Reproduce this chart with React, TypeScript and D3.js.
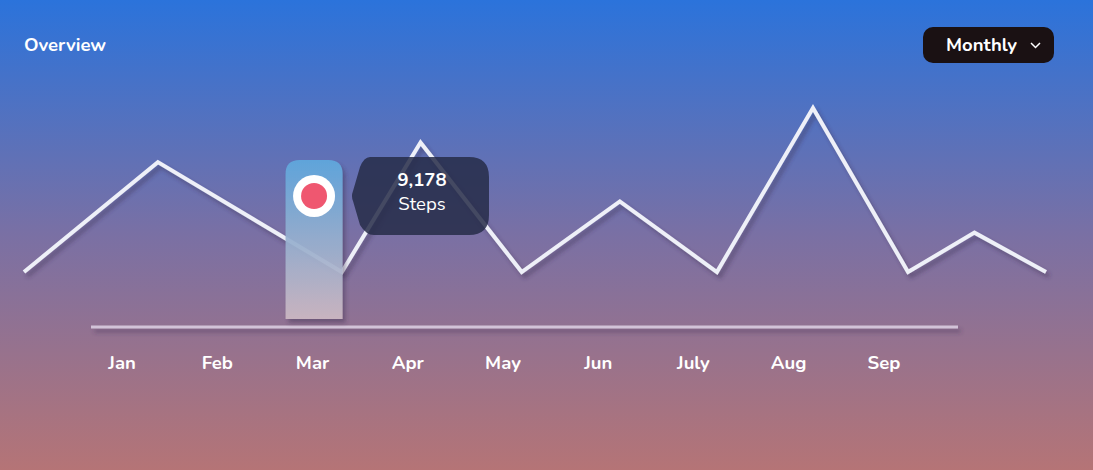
import React, {useRef, useEffect} from "react";
import * as d3 from "d3";

// months on the axis
const months = ["Jan", "Feb", "Mar", "Apr", "May", "Jun", "July", "Aug", "Sep"];
// line positions (0-100 across the width) and values (0-100)
const linePos = [0, 13.1, 31.1, 38.8, 48.7, 58.3, 67.8, 77.2, 86.5, 93.0, 100];
const lineValues = [0, 67, 0, 79, 0, 43, 0, 100, 0, 24, 0];
const selectedMonth = "Mar";
const selectedSteps = 9178;

const App = () => {
    const ref = useRef<SVGSVGElement>(null);

    useEffect(() => {
        document.body.style.margin = "0";
        const width = 1093;
        const height = 470;
        const font = "Nunito, 'Noto Sans', sans-serif";
        const fontSize = "18.5px";

        const svg = d3.select(ref.current)
            .attr("width", width)
            .attr("height", height);
        svg.selectAll("*").remove();

        const defs = svg.append("defs");
        const bg = defs.append("linearGradient").attr("id", "bg")
            .attr("x1", 0).attr("y1", 0).attr("x2", 0).attr("y2", 1);
        bg.append("stop").attr("offset", "0%").attr("stop-color", "#2b73db");
        bg.append("stop").attr("offset", "50%").attr("stop-color", "#7a70a4");
        bg.append("stop").attr("offset", "100%").attr("stop-color", "#b57476");

        const barGrad = defs.append("linearGradient").attr("id", "barGrad")
            .attr("x1", 0).attr("y1", 0).attr("x2", 0).attr("y2", 1);
        barGrad.append("stop").attr("offset", "0%").attr("stop-color", "#5fa8dd");
        barGrad.append("stop").attr("offset", "100%").attr("stop-color", "#cdb8c3");

        // shadow in user space so thin shapes keep it
        const shadow = defs.append("filter").attr("id", "shadow")
            .attr("filterUnits", "userSpaceOnUse")
            .attr("x", 0).attr("y", 0).attr("width", width).attr("height", height);
        shadow.append("feDropShadow").attr("dx", 3).attr("dy", 4).attr("stdDeviation", 2)
            .attr("flood-color", "#3a2a50").attr("flood-opacity", 0.45);

        svg.append("rect").attr("width", width).attr("height", height).attr("fill", "url(#bg)");

        // title
        svg.append("text")
            .attr("x", 24).attr("y", 51)
            .attr("fill", "white")
            .style("font-family", font).style("font-weight", "bold").style("font-size", fontSize)
            .text("Overview");

        // dropdown button
        svg.append("rect")
            .attr("x", 923).attr("y", 27).attr("width", 131).attr("height", 36).attr("rx", 10)
            .attr("fill", "#1a1113");
        svg.append("text")
            .attr("x", 946).attr("y", 51)
            .attr("fill", "white")
            .style("font-family", font).style("font-weight", "bold").style("font-size", fontSize)
            .text("Monthly");
        svg.append("path")
            .attr("d", "M1031,43 L1035.5,47.5 L1040,43")
            .attr("fill", "none").attr("stroke", "white").attr("stroke-width", 1.5);

        // scales
        const xLine = d3.scaleLinear().domain([0, 100]).range([24, 1046]);
        const yLine = d3.scaleLinear().domain([0, 100]).range([272, 108]);
        const xMonth = d3.scaleBand().domain(months).range([74.5, 931.5]);

        // line
        const line = d3.line<number>()
            .x((d, i) => xLine(linePos[i]))
            .y(d => yLine(d));
        svg.append("path")
            .datum(lineValues)
            .attr("fill", "none")
            .attr("stroke", "#eef0f8")
            .attr("stroke-width", 4)
            .attr("stroke-linejoin", "miter")
            .attr("filter", "url(#shadow)")
            .attr("d", line);

        // axis line
        svg.append("rect")
            .attr("x", 91).attr("y", 325.5).attr("width", 867).attr("height", 3)
            .attr("fill", "#d2c3d8")
            .attr("filter", "url(#shadow)");

        // month labels
        svg.selectAll(".month")
            .data(months)
            .enter()
            .append("text")
            .attr("class", "month")
            .attr("x", d => (xMonth(d) as number) + xMonth.bandwidth() / 2)
            .attr("y", 369)
            .attr("text-anchor", "middle")
            .attr("fill", "white")
            .style("font-family", font).style("font-weight", "bold").style("font-size", fontSize)
            .text(d => d);

        // highlight bar
        const cx = (xMonth(selectedMonth) as number) + xMonth.bandwidth() / 2 + 1.5;
        const bw = 57, top = 160, bottom = 319, r = 14;
        const bx = cx - bw / 2;
        svg.append("path")
            .attr("d", `M${bx},${bottom} L${bx},${top + r} Q${bx},${top} ${bx + r},${top} L${bx + bw - r},${top} Q${bx + bw},${top} ${bx + bw},${top + r} L${bx + bw},${bottom} Z`)
            .attr("fill", "url(#barGrad)")
            .attr("opacity", 0.93)
            .attr("filter", "url(#shadow)");
        svg.append("circle").attr("cx", cx).attr("cy", 196).attr("r", 21).attr("fill", "white");
        svg.append("circle").attr("cx", cx).attr("cy", 196).attr("r", 13).attr("fill", "#ef5770");

        // tooltip
        const tx = 352, ty = 157, tw = 137, th = 78;
        svg.append("path")
            .attr("d", `M${tx + 18},${ty} L${tx + tw - 20},${ty} Q${tx + tw},${ty} ${tx + tw},${ty + 20} L${tx + tw},${ty + th - 20} Q${tx + tw},${ty + th} ${tx + tw - 20},${ty + th} L${tx + 22},${ty + th} Q${tx + 14},${ty + th} ${tx + 8},${ty + th - 10} L${tx + 1},${ty + 44} Q${tx - 1},${ty + 39} ${tx + 1},${ty + 34} L${tx + 8},${ty + 10} Q${tx + 12},${ty} ${tx + 18},${ty} Z`)
            .attr("fill", "#262b48")
            .attr("opacity", 0.85);
        svg.append("text")
            .attr("x", tx + 70).attr("y", 186)
            .attr("text-anchor", "middle")
            .attr("fill", "white")
            .style("font-family", font).style("font-weight", "bold").style("font-size", fontSize)
            .text(d3.format(",")(selectedSteps));
        svg.append("text")
            .attr("x", tx + 70).attr("y", 210)
            .attr("text-anchor", "middle")
            .attr("fill", "white")
            .style("font-family", font).style("font-size", fontSize)
            .text("Steps");
    }, []);

    return (
        <div style={{position: "relative"}}>
            <svg ref={ref} style={{display: "block"}}></svg>
        </div>
    );
};

export default App;
